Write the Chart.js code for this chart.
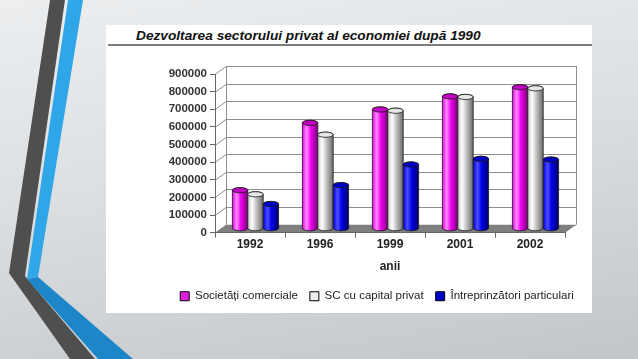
<!DOCTYPE html>
<html>
<head>
<meta charset="utf-8">
<script src="https://cdn.jsdelivr.net/npm/chart.js@4.4.1/dist/chart.umd.min.js"></script>
<style>
  html, body { margin: 0; padding: 0; }
  body {
    width: 638px; height: 359px; overflow: hidden; position: relative;
    background: linear-gradient(170deg, #eceef0 0%, #dcdfe1 45%, #c3c6c9 100%);
    font-family: 'Liberation Sans', Arial, sans-serif;
  }
  #deco { position: absolute; left: 0; top: 0; }
  #panel { position: absolute; left: 106px; top: 25px; width: 486px; height: 288px; background: #fff; }
  #title {
    position: absolute; left: 136px; top: 28px; margin: 0;
    font: italic bold 13.7px 'Liberation Sans', Arial, sans-serif; color: #111;
  }
  #rule { position: absolute; left: 108px; top: 44px; width: 484px; height: 2px; background: #7d7d7d; }
  #wrap { position: absolute; left: 0; top: 0; width: 638px; height: 359px; }
</style>
</head>
<body>
<svg id="deco" width="638" height="359">
  <polygon points="50,0 65,0 25,276 95,359 70,359 9,273" fill="#4f4f4f"/>
  <polygon points="68,0 83,0 38,277 27,279" fill="#2ea6e8"/>
  <polygon points="27,279 38,277 133,359 98,359" fill="#1c86c8"/>
</svg>
<div id="panel"></div>
<div id="title">Dezvoltarea sectorului privat al economiei după 1990</div>
<div id="rule"></div>
<div id="wrap"><canvas id="chart" width="638" height="359"></canvas></div>

<script>
// date
const ani = ['1992', '1996', '1999', '2001', '2002'];
const societatiComerciale = [218000, 600000, 676000, 750000, 802000];
const scCapitalPrivat = [195000, 533000, 669000, 747000, 796000];
const intreprinzatori = [140000, 247000, 364000, 396000, 392000];
const yMax = 900000;
const yStep = 100000;

// adancimea "3D"
const depthX = 11;
const depthY = -8;

const cylStyles = [
    { dark: '#7a007a', main: '#ee00ee', light: '#ff8cff', top: '#c400c4' },
    { dark: '#6a6a6a', main: '#c4c4c4', light: '#ffffff', top: '#e6e6e6' },
    { dark: '#00006a', main: '#0000e6', light: '#4c4cff', top: '#0000c4' }
];

// perete spate, perete lateral, podea
const walls3d = {
    id: 'walls3d',
    beforeDraw(chart) {
        const { ctx, chartArea: a, scales: { y } } = chart;
        const top = y.getPixelForValue(yMax);
        const bottom = y.getPixelForValue(0);
        ctx.save();
        ctx.strokeStyle = '#8e8e8e';
        ctx.lineWidth = 1;
        y.ticks.forEach(t => {
            const py = Math.round(y.getPixelForValue(t.value)) + 0.5;
            ctx.beginPath();
            ctx.moveTo(a.left, py);
            ctx.lineTo(a.left + depthX, py + depthY);
            ctx.lineTo(a.right + depthX, py + depthY);
            ctx.stroke();
        });
        ctx.beginPath();
        ctx.moveTo(a.left + depthX + 0.5, top + depthY);
        ctx.lineTo(a.left + depthX + 0.5, bottom + depthY);
        ctx.moveTo(a.right + depthX + 0.5, top + depthY);
        ctx.lineTo(a.right + depthX + 0.5, bottom + depthY);
        ctx.stroke();

        // podea
        ctx.fillStyle = '#7f7f7f';
        ctx.beginPath();
        ctx.moveTo(a.left, bottom);
        ctx.lineTo(a.right, bottom);
        ctx.lineTo(a.right + depthX, bottom + depthY);
        ctx.lineTo(a.left + depthX, bottom + depthY);
        ctx.closePath();
        ctx.fill();
        ctx.restore();
    }
};

function drawCylinder(ctx, cx, top, bottom, w, st) {
    const rx = w / 2, ry = 2.6;
    const l = cx - rx, r = cx + rx;
    const g = ctx.createLinearGradient(l, 0, r, 0);
    g.addColorStop(0, st.main);
    g.addColorStop(0.28, st.light);
    g.addColorStop(0.55, st.main);
    g.addColorStop(1, st.dark);
    ctx.beginPath();
    ctx.moveTo(l, top);
    ctx.lineTo(l, bottom);
    ctx.ellipse(cx, bottom, rx, ry, 0, Math.PI, 0, true);
    ctx.lineTo(r, top);
    ctx.ellipse(cx, top, rx, ry, 0, 0, Math.PI, true);
    ctx.closePath();
    ctx.fillStyle = g;
    ctx.fill();
    ctx.stroke();
    ctx.beginPath();
    ctx.ellipse(cx, top, rx, ry, 0, 0, Math.PI * 2);
    ctx.fillStyle = st.top;
    ctx.fill();
    ctx.stroke();
}

// cilindrii in locul barelor simple
const cylinders = {
    id: 'cylinders',
    beforeDatasetsDraw(chart) {
        const ctx = chart.ctx;
        const metas = chart.data.datasets.map((d, i) => chart.getDatasetMeta(i));
        ctx.save();
        ctx.strokeStyle = '#1a1a1a';
        ctx.lineWidth = 0.8;
        ani.forEach((an, j) => {
            metas.forEach((meta, i) => {
                const bar = meta.data[j];
                const p = bar.getProps(['x', 'y', 'base', 'width'], true);
                drawCylinder(ctx, p.x + depthX / 2, p.y + depthY / 2, p.base + depthY / 2, p.width, cylStyles[i]);
            });
        });
        ctx.restore();
        return false;
    }
};

const fontFam = "'Liberation Sans', Arial, sans-serif";
const tickFont = { family: fontFam, size: 11.5, weight: 'bold' };

new Chart(document.getElementById('chart'), {
    type: 'bar',
    data: {
        labels: ani,
        datasets: [
            { label: 'Societăți comerciale', data: societatiComerciale, backgroundColor: '#e020e0', borderColor: '#000', borderWidth: 1 },
            { label: 'SC cu capital privat', data: scCapitalPrivat, backgroundColor: '#eeeeee', borderColor: '#000', borderWidth: 1 },
            { label: 'Întreprinzători particulari', data: intreprinzatori, backgroundColor: '#0000cc', borderColor: '#000', borderWidth: 1 }
        ]
    },
    options: {
        responsive: false,
        animation: false,
        layout: { padding: { left: 165, right: 49, top: 74, bottom: 47 } },
        datasets: { bar: { barPercentage: 1, categoryPercentage: 0.66 } },
        scales: {
            x: {
                grid: { drawOnChartArea: false, drawTicks: true, tickLength: 5, color: '#666' },
                border: { display: true, color: '#666' },
                ticks: { font: { ...tickFont, size: 12 }, color: '#222', padding: 0 },
                title: {
                    display: true, text: 'anii', color: '#222',
                    font: { ...tickFont, size: 12 }, padding: { top: 7, bottom: 5 }
                }
            },
            y: {
                min: 0,
                max: yMax,
                afterFit(scale) { scale.width = 50; },
                grid: { drawOnChartArea: false, drawTicks: true, tickLength: 5, color: '#666' },
                border: { display: true, color: '#666' },
                ticks: {
                    stepSize: yStep, font: tickFont, color: '#333', padding: 3, autoSkip: false,
                    callback: v => String(v)
                }
            },
            // spatiu gol in dreapta (adancimea peretelui spate)
            yPad: {
                position: 'right',
                afterFit(scale) { scale.width = 24; },
                grid: { display: false },
                border: { display: false },
                ticks: { display: false }
            }
        },
        plugins: {
            legend: {
                position: 'bottom',
                labels: {
                    boxWidth: 9, boxHeight: 9, padding: 12, color: '#222',
                    font: { family: fontFam, size: 11.5 }
                }
            },
            tooltip: { enabled: false }
        }
    },
    plugins: [walls3d, cylinders]
});
</script>
</body>
</html>
